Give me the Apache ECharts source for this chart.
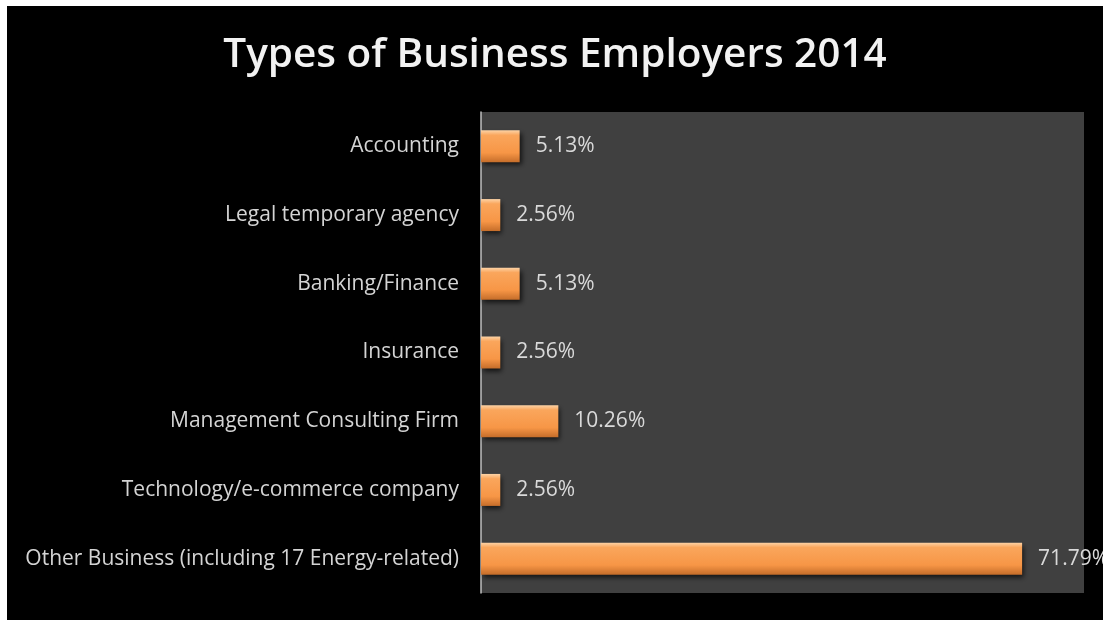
<!DOCTYPE html>
<html>
<head>
<meta charset="utf-8">
<script src="https://cdn.jsdelivr.net/npm/echarts@6/dist/echarts.min.js"></script>
<style>
html,body{margin:0;padding:0;background:#fff;width:1103px;height:620px;overflow:hidden;}
#c{position:absolute;left:7px;top:6px;width:1096px;height:614px;}
</style>
</head>
<body>
<div id="c"></div>
<script>
const categories = [
  "Accounting",
  "Legal temporary agency",
  "Banking/Finance",
  "Insurance",
  "Management Consulting Firm",
  "Technology/e-commerce company",
  "Other Business (including 17 Energy-related)"
];
const values = [5.13, 2.56, 5.13, 2.56, 10.26, 2.56, 71.79];

const chart = echarts.init(document.getElementById('c'), null, {renderer: 'canvas'});
chart.setOption({
  backgroundColor: '#000000',
  animation: false,
  title: {
    text: 'Types of Business Employers 2014',
    left: 'center',
    top: 24,
    textStyle: {
      color: '#f2f2f2',
      fontFamily: 'Open Sans',
      fontWeight: 600,
      fontSize: 40.5
    }
  },
  grid: {
    left: 474,
    right: 19,
    top: 106,
    bottom: 27,
    show: true,
    backgroundColor: '#404040',
    borderWidth: 0
  },
  xAxis: {
    type: 'value',
    min: 0,
    max: 80,
    show: false,
    splitLine: {show: false}
  },
  yAxis: {
    type: 'category',
    data: categories,
    inverse: true,
    axisLine: {show: true, lineStyle: {color: '#bfbfbf', width: 1.5}},
    axisTick: {show: false},
    axisLabel: {
      color: '#d4d4d4',
      fontFamily: 'Open Sans',
      fontSize: 21,
      margin: 22
    }
  },
  series: [{
    type: 'bar',
    data: values,
    barWidth: 32,
    itemStyle: {
      color: {
        type: 'linear', x: 0, y: 0, x2: 0, y2: 1,
        colorStops: [
          {offset: 0, color: '#fdd3a6'},
          {offset: 0.15, color: '#faa65c'},
          {offset: 0.7, color: '#f79646'},
          {offset: 1, color: '#c56d2a'}
        ]
      },
      shadowColor: 'rgba(0,0,0,0.7)',
      shadowBlur: 5,
      shadowOffsetX: 2,
      shadowOffsetY: 3
    },
    label: {
      show: true,
      position: 'right',
      distance: 16,
      color: '#d9d9d9',
      fontFamily: 'Open Sans',
      fontSize: 21,
      formatter: function (p) { return p.value.toFixed(2) + '%'; }
    }
  }]
});
</script>
</body>
</html>
